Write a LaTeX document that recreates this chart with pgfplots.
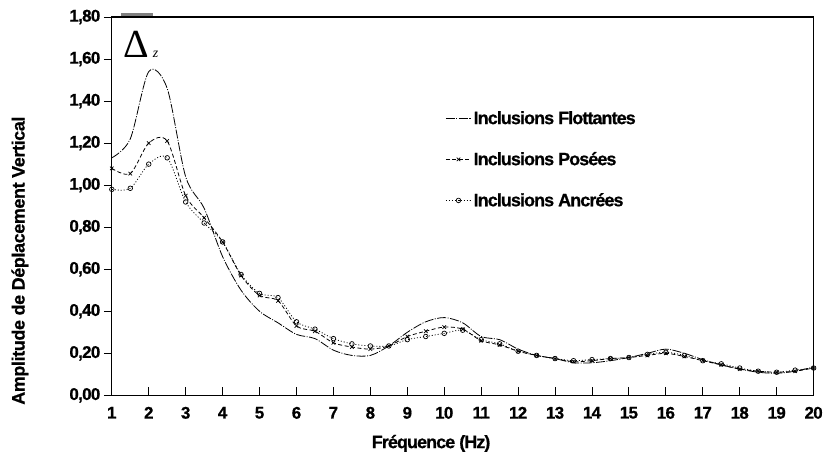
\documentclass[border=0pt]{standalone}
\usepackage{pgfplots}
\pgfplotsset{compat=1.18}
\usepackage{fontspec}
\setmainfont{Liberation Sans}
\newfontfamily\seriffont{Liberation Serif}
\newfontfamily\tickfont{Liberation Sans Bold}[LetterSpace=-4, FakeBold=0.8]
\newfontfamily\labfont{Liberation Sans Bold}[LetterSpace=-5, FakeBold=0.8]
\newfontfamily\ylabfont{Liberation Sans Bold}[LetterSpace=-2, FakeBold=0.8]

\pgfplotstableread{
x    flot   pose   ancr
1    1.13   1.08   0.98
1.5  1.22   1.055  0.985
2    1.54   1.20   1.10
2.5  1.46   1.21   1.13
3    1.04   0.95   0.92
3.5  0.89   0.845  0.82
4    0.66   0.73   0.73
4.5  0.50   0.57   0.575
5    0.40   0.475  0.485
5.5  0.345  0.45   0.465
6    0.29   0.33   0.35
6.5  0.27   0.305  0.315
7    0.215  0.25   0.27
7.5  0.19   0.23   0.245
8    0.19   0.22   0.235
8.5  0.235  0.235  0.235
9    0.30   0.28   0.265
9.5  0.35   0.305  0.28
10   0.37   0.325  0.295
10.5 0.345  0.315  0.31
11   0.28   0.26   0.265
11.5 0.265  0.24   0.245
12   0.22   0.21   0.21
12.5 0.19   0.19   0.19
13   0.175  0.175  0.175
13.5 0.155  0.16   0.165
14   0.155  0.165  0.17
14.5 0.165  0.175  0.175
15   0.18   0.18   0.18
15.5 0.20   0.19   0.195
16   0.22   0.20   0.205
16.5 0.20   0.185  0.19
17   0.17   0.165  0.165
17.5 0.145  0.145  0.15
18   0.125  0.125  0.13
18.5 0.11   0.115  0.115
19   0.105  0.11   0.11
19.5 0.115  0.115  0.12
20   0.135  0.13   0.13
}\datatable

\begin{document}
\begin{tikzpicture}
\begin{axis}[
  scale only axis,
  width=703bp, height=379bp,
  xmin=1, xmax=20, ymin=0, ymax=1.8,
  xtick={1,...,20},
  ytick={0,0.2,0.4,0.6,0.8,1.0,1.2,1.4,1.6,1.8},
  xtick pos=bottom, ytick pos=left,
  tick align=outside,
  major tick length=8bp,
  x tick style={yshift=8bp},
  tick style={black, line width=0.9bp},
  axis line style={line width=1.2bp},
  scaled y ticks=false,
  /pgf/number format/assume math mode=true,
  y tick label style={/pgf/number format/fixed,
    /pgf/number format/fixed zerofill,
    /pgf/number format/precision=2,
    /pgf/number format/use comma},
  tick label style={font=\tickfont\fontsize{17}{19}\selectfont},
  xlabel={Fréquence (Hz)},
  ylabel={Amplitude de Déplacement Vertical},
  xlabel style={font=\labfont\fontsize{18}{20}\selectfont, at={(rel axis cs:0.455,-0.127)}, anchor=center},
  ylabel style={font=\ylabfont\fontsize{18}{20}\selectfont, at={(rel axis cs:-0.131,0.356)}, anchor=center, rotate=0},
  clip=false,
  legend cell align=left,
  legend style={draw=none, fill=none, at={(rel axis cs:0.475,0.757)}, anchor=north west,
    font=\labfont\fontsize{18}{20}\selectfont, row sep=22.5bp, inner sep=0pt,
    nodes={inner sep=2bp}},
  legend image code/.code={\draw[mark repeat=2,mark phase=2,#1] plot coordinates {(0cm,0cm) (0.45cm,0cm) (0.9cm,0cm)};},
]
\addplot[black, line width=0.8bp, smooth, dash pattern=on 9bp off 1.5bp on 1bp off 1.5bp] table[x=x, y=flot] {\datatable};
\addlegendentry{Inclusions Flottantes}
\addplot[black, line width=0.8bp, smooth, dash pattern=on 4bp off 2.5bp, mark=x, mark size=2.5bp, mark options={solid, line width=0.7bp}] table[x=x, y=pose] {\datatable};
\addlegendentry{Inclusions Posées}
\addplot[black, line width=0.8bp, smooth, dash pattern=on 1bp off 2bp, mark=o, mark size=2.3bp, mark options={solid, line width=0.7bp}] table[x=x, y=ancr] {\datatable};
\addlegendentry{Inclusions Ancrées}
\draw[gray, line width=3bp] (rel axis cs:0.0128,1.0066) -- (rel axis cs:0.0583,1.0066);
\node[anchor=base west, inner sep=0pt] at (rel axis cs:0.016,0.893) {\seriffont\fontsize{40}{40}\selectfont Δ\hspace{4bp}{\fontsize{14}{14}\selectfont\itshape z}};
\path (rel axis cs:-0.1593,-0.1847) rectangle (rel axis cs:1.0156,1.0449);
\end{axis}
\end{tikzpicture}
\end{document}
